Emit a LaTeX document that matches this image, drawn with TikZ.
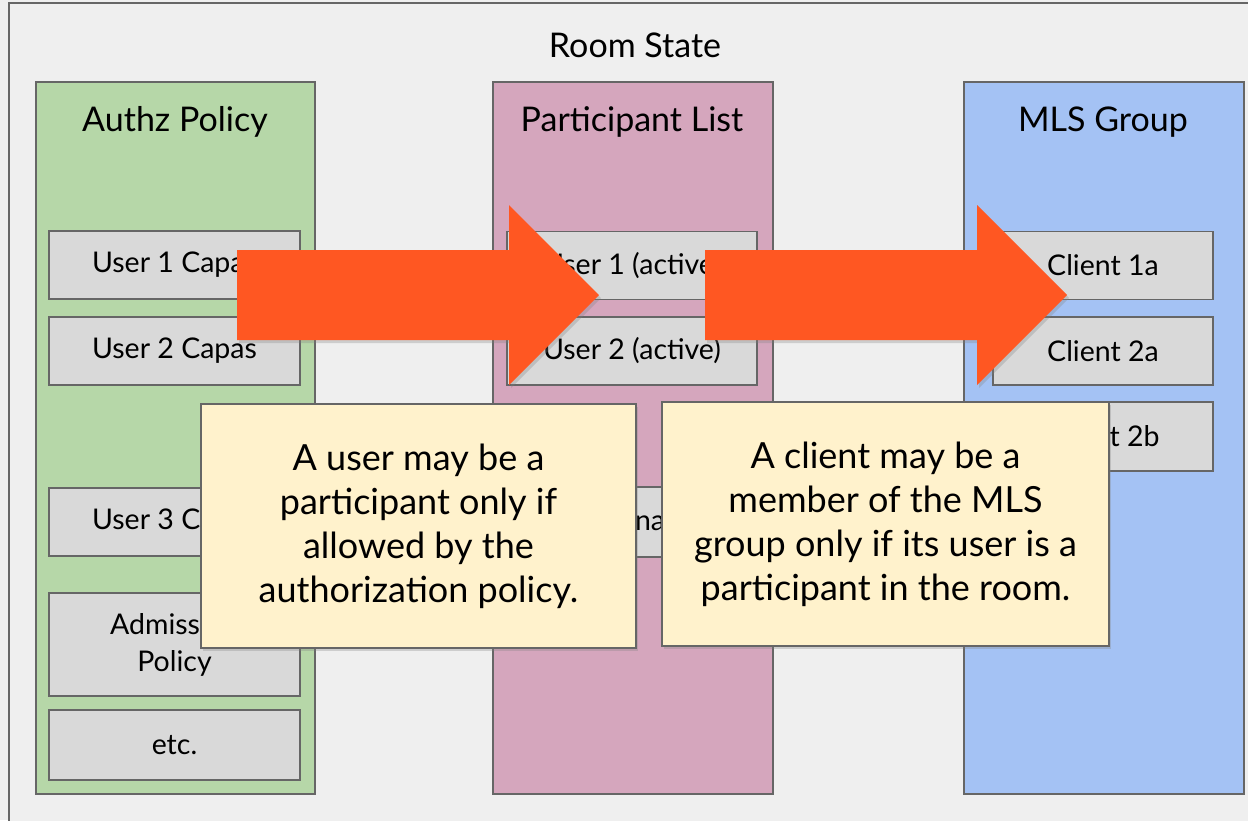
\documentclass[tikz,border=0pt]{standalone}
\usepackage{fontspec}
\setmainfont{Lato}
\usetikzlibrary{shadows}

\definecolor{roombg}{HTML}{EFEFEF}
\definecolor{edgegray}{HTML}{666666}
\definecolor{itemgray}{HTML}{D9D9D9}
\definecolor{authzgreen}{HTML}{B6D7A8}
\definecolor{partpink}{HTML}{D5A6BD}
\definecolor{mlsblue}{HTML}{A4C2F4}
\definecolor{notecream}{HTML}{FFF2CC}
\definecolor{arroworange}{HTML}{FF5722}

\tikzset{
  column/.style={draw=edgegray, line width=1.6pt, anchor=north west, inner sep=0pt},
  coltitle/.style={font=\fontsize{34}{40}\selectfont},
  item/.style={draw=edgegray, line width=1.3pt, fill=itemgray, inner sep=0pt,
    minimum height=68pt, align=center, font=\fontsize{28.5}{37}\selectfont},
  note/.style={draw=edgegray, line width=1.3pt, fill=notecream, inner sep=0pt,
    minimum height=244pt, align=center, font=\fontsize{36}{44}\selectfont,
    drop shadow={shadow xshift=2pt, shadow yshift=-3pt, opacity=0.3}},
  bigarrow/.style={fill=arroworange,
    drop shadow={shadow xshift=2pt, shadow yshift=-3pt, opacity=0.3}}
}

\begin{document}
\begin{tikzpicture}[x=1pt, y=-1pt]
  \useasboundingbox (0,0) rectangle (1248,820);
  \fill[roombg] (0,0) rectangle (1248,820);
  \draw[edgegray, line width=1.6pt, fill=roombg] (9,3) rectangle (1270,840);
  \node[coltitle] (room) at (635,45) {Room State};

  % the three columns
  \node[column, fill=authzgreen, minimum width=279pt, minimum height=712pt] (authz) at (35,81) {};
  \node[column, fill=partpink, minimum width=280pt, minimum height=712pt] (plist) at (492,81) {};
  \node[column, fill=mlsblue, minimum width=280pt, minimum height=712pt] (mls) at (963,81) {};
  \node[coltitle] (authztitle) at (175,122) {Authz Policy};
  \node[coltitle] (plisttitle) at (632,122) {Participant List};
  \node[coltitle] (mlstitle) at (1103,122) {MLS Group};

  % authz policy entries
  \node[item, minimum width=251pt] (capa1) at (174.5,265) {User 1 Capas};
  \node[item, minimum width=251pt] (capa2) at (174.5,351) {User 2 Capas};
  \node[item, minimum width=251pt] (capa3) at (174.5,522) {User 3 Capas};
  \node[item, minimum width=251pt, minimum height=103pt] (admission) at (174.5,644.5) {Admission\\Policy};
  \node[item, minimum width=251pt, minimum height=70pt] (etc) at (174.5,745) {etc.};

  % participant list entries
  \node[item, minimum width=250pt] (user1) at (632,265.5) {User 1 (active)};
  \node[item, minimum width=250pt] (user2) at (632,351) {User 2 (active)};
  \node[item, minimum width=250pt, minimum height=70pt] (user3) at (632,522) {User 3 (inactive)};

  % mls group entries
  \node[item, minimum width=220pt] (client1a) at (1103,265.5) {Client 1a};
  \node[item, minimum width=220pt] (client2a) at (1103,351) {Client 2a};
  \node[item, minimum width=220pt, minimum height=69pt] (client2b) at (1103,436.5) {Client 2b};

  % arrows
  \path[bigarrow] (237,250) -- (509,250) -- (509,205) -- (599,295) -- (509,385) -- (509,340) -- (237,340) -- cycle;
  \path[bigarrow] (705,250) -- (977,250) -- (977,205) -- (1067,295) -- (977,385) -- (977,340) -- (705,340) -- cycle;

  % notes
  \node[note, minimum width=435pt] (authznote) at (418.5,526) {A user may be a\\participant only if\\allowed by the\\authorization policy.};
  \node[note, minimum width=447pt] (mlsnote) at (885.5,524) {A client may be a\\member of the MLS\\group only if its user is a\\participant in the room.};
\end{tikzpicture}
\end{document}
